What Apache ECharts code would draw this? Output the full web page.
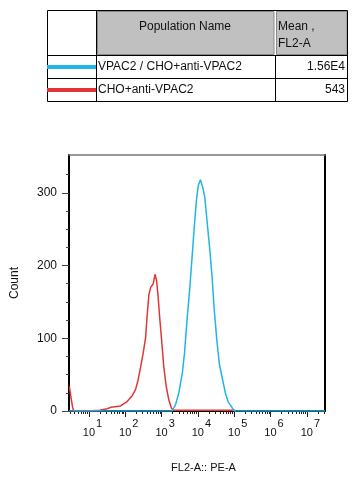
<!DOCTYPE html>
<html>
<head>
<meta charset="utf-8">
<script src="https://cdn.jsdelivr.net/npm/echarts@6/dist/echarts.min.js"></script>
<style>
html,body{margin:0;padding:0;background:#fff;}
#chart{width:355px;height:484px;}
</style>
</head>
<body>
<div id="chart"></div>
<script>
// ---- data ----
var populationNames = ['VPAC2 / CHO+anti-VPAC2', 'CHO+anti-VPAC2'];
var meanValues = ['1.56E4', '543'];
var seriesColors = ['#1fb5e6', '#e33535'];
var xMajorTicks = [1, 2, 3, 4, 5, 6, 7];       // decades (10^n)
var yMajorTicks = [0, 100, 200, 300];
var yMinorTicks = [25, 50, 75, 125, 150, 175, 225, 250, 275, 325];
// histogram of VPAC2 / CHO+anti-VPAC2 : [log10(FL2-A), count]
var vpacData = [[0.45,0],[3.29,0],[3.38,8],[3.47,24],[3.57,52],[3.63,79],[3.70,125],[3.78,171],[3.84,212],[3.90,253],[3.96,290],[4.01,310],[4.07,318],[4.13,308],[4.19,294],[4.25,262],[4.32,226],[4.39,185],[4.45,139],[4.52,98],[4.59,65],[4.68,43],[4.76,24],[4.83,13],[4.91,7],[5.00,0],[7.5,0]];
// histogram of CHO+anti-VPAC2
var choData = [[0.46,34],[0.50,20],[0.55,5],[0.58,0],[1.0,0],[1.3,1],[1.5,3],[1.6,5],[1.87,7],[2.05,13],[2.19,21],[2.28,29],[2.35,42],[2.42,60],[2.49,79],[2.56,101],[2.60,130],[2.65,160],[2.70,170],[2.77,175],[2.82,188],[2.86,180],[2.90,160],[2.94,133],[3.00,98],[3.06,61],[3.13,33],[3.20,15],[3.27,4],[3.32,1],[4.0,1],[5.0,1],[5.05,0]];

var X_MIN = 0.45, X_MAX = 7.5, Y_MAX = 352;
var xMinorTicks = [];
for (var n = 0; n <= 7; n++) {
  for (var k = 2; k <= 9; k++) {
    var v = n + Math.log10(k);
    if (v > X_MIN && v < X_MAX) xMinorTicks.push(v);
  }
}

var FONT = '"Liberation Sans", Arial, sans-serif';
var chart = echarts.init(document.getElementById('chart'), null, {renderer: 'canvas'});

// table graphics
var tbl = [];
function line(x1,y1,x2,y2,c,w){tbl.push({type:'line',shape:{x1:x1,y1:y1,x2:x2,y2:y2},style:{stroke:c,lineWidth:w||1},silent:true});}
function txt(x,y,t,align){tbl.push({type:'text',x:x,y:y,style:{text:t,fill:'#111',font:'12px '+FONT,align:align||'left',verticalAlign:'middle'},silent:true});}
// header gray cells
tbl.push({type:'rect',shape:{x:97.5,y:11.5,width:176.5,height:43},style:{fill:'#c0c0c0',stroke:'#8a8a8a',lineWidth:1},silent:true});
tbl.push({type:'rect',shape:{x:276.5,y:11.5,width:70.5,height:43},style:{fill:'#c0c0c0',stroke:'#8a8a8a',lineWidth:1},silent:true});
// outer border and grid lines
tbl.push({type:'rect',shape:{x:47.5,y:10.5,width:300,height:91},style:{fill:null,stroke:'#000',lineWidth:1},silent:true});
line(96.5,10.5,96.5,101.5,'#000');
line(47.5,55.5,347.5,55.5,'#000');
line(47.5,78.5,347.5,78.5,'#000');
line(275.5,55.5,275.5,101.5,'#000');
// header texts
txt(185,27,'Population Name','center');
txt(278,27,'Mean ,');
txt(278,44,'FL2-A');
// rows
var rowY = [67, 90];
for (var i = 0; i < populationNames.length; i++) {
  tbl.push({type:'rect',shape:{x:47,y:rowY[i]-2,width:49,height:4},style:{fill:seriesColors[i]},silent:true});
  txt(98, rowY[i], populationNames[i]);
  txt(345, rowY[i], meanValues[i], 'right');
}

var option = {
  animation: false,
  backgroundColor: '#fff',
  grid: {left: 69, right: 30, top: 155, bottom: 73, containLabel: false},
  graphic: tbl,
  xAxis: [
    {
      type: 'value', min: X_MIN, max: X_MAX, position: 'bottom',
      name: 'FL2-A:: PE-A', nameLocation: 'middle', nameGap: 51,
      nameTextStyle: {fontFamily: FONT, fontSize: 11, color: '#111', padding: [0,0,0,13]},
      axisLine: {show: true, onZero: false, lineStyle: {color: '#000', width: 2}},
      axisTick: {show: true, length: 6, customValues: xMajorTicks, lineStyle: {color: '#222', width: 1}},
      axisLabel: {
        show: true, margin: 7.7, customValues: xMajorTicks,
        formatter: function (v) { return '{a|10}{b|' + Math.round(v) + '}'; },
        rich: {
          a: {fontFamily: FONT, fontSize: 11, color: '#111', lineHeight: 20, verticalAlign: 'bottom', padding: [0,0,0,7]},
          b: {fontFamily: FONT, fontSize: 11, color: '#111', lineHeight: 12, verticalAlign: 'top', padding: [0,0,0,1]}
        }
      },
      splitLine: {show: false}
    },
    {
      type: 'value', min: X_MIN, max: X_MAX, position: 'bottom',
      axisLine: {show: false, onZero: false},
      axisTick: {show: true, length: 3, customValues: xMinorTicks, lineStyle: {color: '#222', width: 1}},
      axisLabel: {show: false},
      splitLine: {show: false}
    },
    {
      type: 'value', min: X_MIN, max: X_MAX, position: 'top',
      axisLine: {show: true, onZero: false, lineStyle: {color: '#777', width: 1.5}},
      axisTick: {show: false}, axisLabel: {show: false}, splitLine: {show: false}
    }
  ],
  yAxis: [
    {
      type: 'value', min: 0, max: Y_MAX, position: 'left',
      name: 'Count', nameLocation: 'middle', nameGap: 48, nameRotate: 90,
      nameTextStyle: {fontFamily: FONT, fontSize: 12, color: '#111'},
      axisLine: {show: true, onZero: false, lineStyle: {color: '#000', width: 2}},
      axisTick: {show: true, length: 7, customValues: yMajorTicks, lineStyle: {color: '#444', width: 1}},
      axisLabel: {show: true, margin: 12, customValues: yMajorTicks, fontFamily: FONT, fontSize: 12, color: '#111'},
      splitLine: {show: false}
    },
    {
      type: 'value', min: 0, max: Y_MAX, position: 'left',
      axisLine: {show: false, onZero: false},
      axisTick: {show: true, length: 3, customValues: yMinorTicks, lineStyle: {color: '#444', width: 1}},
      axisLabel: {show: false}, splitLine: {show: false}
    },
    {
      type: 'value', min: 0, max: Y_MAX, position: 'right',
      axisLine: {show: true, onZero: false, lineStyle: {color: '#000', width: 2}},
      axisTick: {show: false}, axisLabel: {show: false}, splitLine: {show: false}
    }
  ],
  series: [
    {
      name: populationNames[1], type: 'line', data: choData, showSymbol: false,
      xAxisIndex: 0, yAxisIndex: 0, lineStyle: {color: seriesColors[1], width: 1.5}, z: 2
    },
    {
      name: populationNames[0], type: 'line', data: vpacData, showSymbol: false,
      xAxisIndex: 0, yAxisIndex: 0, lineStyle: {color: seriesColors[0], width: 1.5}, z: 3
    }
  ]
};
chart.setOption(option);
</script>
</body>
</html>
